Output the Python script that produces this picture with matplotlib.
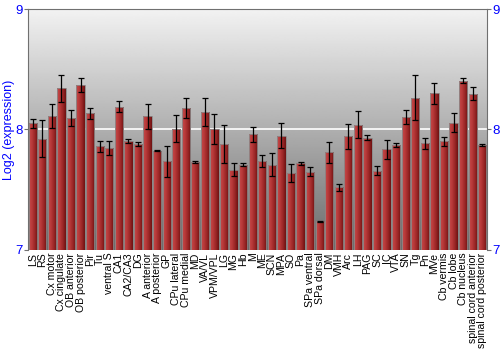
import matplotlib
matplotlib.use("Agg")
import matplotlib.pyplot as plt
import numpy as np

regions = [
    "LS", "RS", "Cx motor", "Cx cingulate", "OB anterior", "OB posterior",
    "Pir", "Tu", "ventral S", "CA1", "CA2/CA3", "DG", "A anterior",
    "A posterior", "GP", "CPu lateral", "CPu medial", "MD", "VA/VL",
    "VPM/VPL", "LG", "MG", "Hb", "M", "ME", "SCN", "MPA", "SO", "Pa",
    "SPa ventral", "SPa dorsal", "DM", "VMH", "Arc", "LH", "PAG", "SC",
    "IC", "VTA", "SN", "Tg", "Pn", "MVe", "Cb vermis", "Cb lobe",
    "Cb nucleus", "spinal cord anterior", "spinal cord posterior",
]
expression = [
    8.05, 7.925, 8.113, 8.343, 8.097, 8.370, 8.133, 7.862, 7.843, 8.191,
    7.906, 7.876, 8.108, 7.823, 7.735, 8.008, 8.177, 7.729, 8.144, 8.003,
    7.878, 7.666, 7.707, 7.959, 7.740, 7.707, 7.950, 7.638, 7.718, 7.649,
    7.238, 7.809, 7.519, 7.942, 8.039, 7.931, 7.657, 7.834, 7.870, 8.102,
    8.265, 7.884, 8.301, 7.901, 8.055, 8.406, 8.296, 7.873,
]
error = [
    0.037, 0.155, 0.097, 0.113, 0.066, 0.055, 0.048, 0.045, 0.058, 0.048,
    0.014, 0.017, 0.102, 0.004, 0.127, 0.110, 0.083, 0.006, 0.119, 0.127,
    0.160, 0.052, 0.012, 0.064, 0.050, 0.097, 0.105, 0.073, 0.015, 0.037,
    0.006, 0.087, 0.029, 0.105, 0.112, 0.021, 0.039, 0.076, 0.014, 0.058,
    0.186, 0.044, 0.087, 0.039, 0.079, 0.019, 0.055, 0.008,
]
y_ticks = [7, 8, 9]

plt.rcParams["font.family"] = ["Liberation Sans", "DejaVu Sans"]

fig = plt.figure(figsize=(5, 3.5), dpi=100)
ax = fig.add_axes([0.056, 0.286, 0.918, 0.688])

x = np.arange(len(regions))
ax.set_xlim(-0.5, len(regions) - 0.5)
ax.set_ylim(7, 9)

# fond en degrade, clair en haut, fonce en bas
bg = np.linspace(0.42, 0.95, 256).reshape(-1, 1)
ax.imshow(bg, cmap="gray", vmin=0, vmax=1, aspect="auto", origin="lower",
          extent=[-0.5, len(regions) - 0.5, 7, 9], zorder=0)
ax.axhline(8, color="white", lw=1.2, zorder=1)

bars = ax.bar(x, np.array(expression) - 7, bottom=7, width=0.86,
              facecolor="none", edgecolor="#8a8a8a", linewidth=0.6, zorder=3)

# degrade rouge horizontal dans chaque barre
red = matplotlib.colors.LinearSegmentedColormap.from_list(
    "bar", ["#c44a4a", "#b83a3a", "#9a2626", "#6e1212"])
grad = np.linspace(0, 1, 64).reshape(1, -1)
for b in bars:
    x0, y0 = b.get_x(), b.get_y()
    im = ax.imshow(grad, cmap=red, aspect="auto", origin="lower",
                   extent=[x0, x0 + b.get_width(), y0, y0 + b.get_height()],
                   zorder=2)
    im.set_clip_path(b)

ax.errorbar(x, expression, yerr=error, fmt="none", ecolor="black",
            elinewidth=0.9, capsize=2, capthick=0.9, zorder=4)

ax.set_xticks(x)
ax.set_xticklabels(regions, rotation=90, fontsize=7.6, color="black")
ax.tick_params(axis="x", length=0, pad=2)

ax.set_yticks(y_ticks)
ax.set_yticklabels([str(t) for t in y_ticks])
ax.tick_params(axis="y", colors="#707070", labelcolor="blue", labelsize=9.5,
               length=3, width=0.8, left=True, right=True,
               labelleft=True, labelright=True, pad=1)
ax.set_ylabel("Log2 (expression)", color="blue", fontsize=9, labelpad=0)

for side in ["left", "right", "top"]:
    ax.spines[side].set_color("#707070")
    ax.spines[side].set_linewidth(0.8)
ax.spines["bottom"].set_visible(False)

fig.savefig("out.png", dpi=100)
